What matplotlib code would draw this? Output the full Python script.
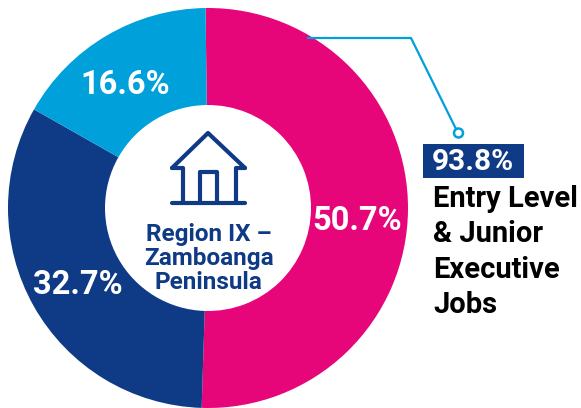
import matplotlib
matplotlib.use('Agg')
import matplotlib.pyplot as plt
from matplotlib.patches import Rectangle, Circle

plt.rcParams['font.family'] = ['Roboto', 'DejaVu Sans']

# shares of the ring, clockwise from the top
labels = ['50.7%', '32.7%', '16.6%']
values = [50.7, 32.7, 16.6]
colors = ['#E6067A', '#0F3A85', '#00A0DA']
center_lines = 'Region IX –\nZamboanga\nPeninsula'
callout_value = '93.8%'
callout_lines = 'Entry Level\n& Junior\nExecutive\nJobs'

W, H = 581, 408
fig = plt.figure(figsize=(W / 100, H / 100), dpi=100)

# overlay in pixel coordinates, y down
over = fig.add_axes([0, 0, 1, 1], zorder=2)
over.set_xlim(0, W)
over.set_ylim(H, 0)
over.axis('off')

# donut
cx, cy, r = 208, 208, 200
ax = fig.add_axes([(cx - r) / W, 1 - (cy + r) / H, 2 * r / W, 2 * r / H], zorder=1)
ax.pie(values, colors=colors, startangle=90.7, counterclock=False, radius=1,
       wedgeprops=dict(width=1 - 103 / 200, linewidth=0))
ax.set_xlim(-1, 1)
ax.set_ylim(-1, 1)

# percentage labels
over.text(357, 221.5, labels[0], color='white', fontsize=23.5, fontweight='bold', ha='center', va='center')
over.text(78, 285, labels[1], color='white', fontsize=23.5, fontweight='bold', ha='center', va='center')
over.text(125.5, 85, labels[2], color='white', fontsize=23.5, fontweight='bold', ha='center', va='center')

# house icon
navy = colors[1]
house = dict(color=navy, lw=3, solid_capstyle='round', solid_joinstyle='round')
over.plot([172, 183, 183], [168, 168, 203], **house)
over.plot([172, 208, 245], [168, 133, 168], **house)
over.plot([245, 236, 236], [168, 168, 203], **house)
over.plot([172, 245], [203, 203], **house)
over.plot([200, 200, 217, 217], [203, 172, 172, 203], **house)

over.text(208.5, 258.5, center_lines, color=navy, fontsize=17.5, fontweight='bold', ha='center', va='center',
          linespacing=1.03)

# callout
teal = colors[2]
over.plot([308, 411, 456], [38, 38, 129], color=teal, lw=1.6)
over.add_patch(Circle((458.5, 133), 4.5, facecolor='white', edgecolor=teal, lw=1.8))
over.add_patch(Rectangle((423, 144), 101, 34, facecolor=navy, edgecolor='none'))
over.text(473, 162, callout_value, color='white', fontsize=21.5, fontweight='bold', ha='center', va='center')
over.text(433, 252, callout_lines, color='black', fontsize=21, fontweight='bold', ha='left', va='center',
          linespacing=1.33)

fig.savefig('out.png', dpi=100)
